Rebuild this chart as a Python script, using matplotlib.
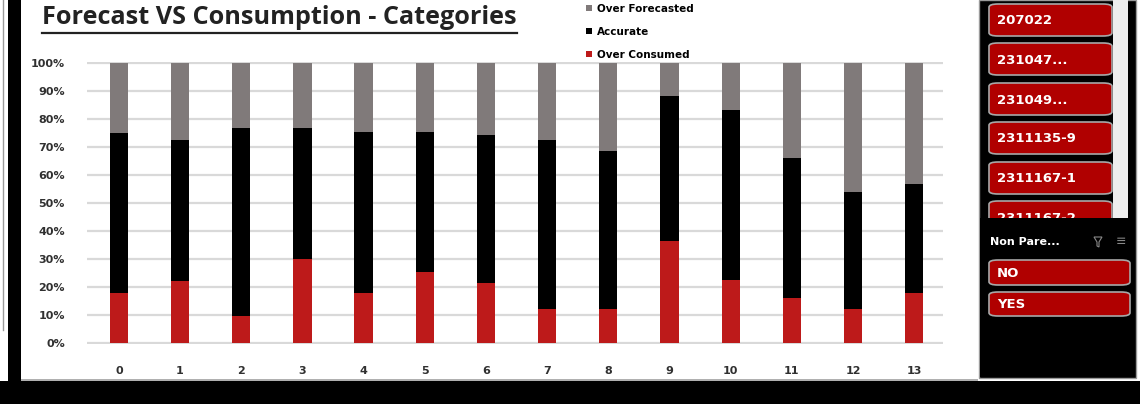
import matplotlib
matplotlib.use("Agg")
import matplotlib.pyplot as plt
from matplotlib.patches import Rectangle, FancyBboxPatch, Polygon
from matplotlib.lines import Line2D
from matplotlib.ticker import FuncFormatter, MultipleLocator

# ---- data (percent of each category) ----
categories = [str(i) for i in range(14)]
over_consumed = [17.8, 22.3, 9.7, 29.9, 17.8, 25.3, 21.6, 12.3, 12.3, 36.4, 22.4, 16.1, 12.3, 17.8]
accurate = [57.4, 50.3, 67.3, 47.1, 57.5, 50.1, 52.7, 60.3, 56.5, 51.8, 61.0, 50.0, 41.6, 38.9]
over_forecasted = [24.8, 27.4, 23.0, 23.0, 24.7, 24.6, 25.7, 27.4, 31.2, 11.8, 16.6, 33.9, 46.1, 43.3]
series_names = ["Over Consumed", "Accurate", "Over Forecasted"]
title = "Forecast VS Consumption - Categories"
slicer1_items = ["207022", "231047...", "231049...", "2311135-9", "2311167-1", "2311167-2"]
slicer2_header = "Non Pare..."
slicer2_items = ["NO", "YES"]

W, H = 1140, 404
fig = plt.figure(figsize=(W / 100, H / 100), dpi=100)
fig.patch.set_facecolor("white")

def fx(px):
    return px / W

def fy(py):
    return 1 - py / H

def rect(x0, y0, x1, y1, z=1, **kw):
    r = Rectangle((fx(x0), fy(y1)), fx(x1 - x0), (y1 - y0) / H, transform=fig.transFigure, zorder=z, **kw)
    fig.add_artist(r)
    return r

# frame decorations
fig.add_artist(Line2D([fx(2.5), fx(2.5)], [fy(0), fy(330)], color="#9a9a9a", lw=1, transform=fig.transFigure))
rect(8, 0, 21, 404, facecolor="black", edgecolor="none")
rect(0, 381, 1140, 404, facecolor="black", edgecolor="none")
rect(21, 379, 978, 381, facecolor="#b0b0b0", edgecolor="none")

# ---- chart ----
ymin, ymax = -0.4, 100.4
y0px, y100px = 345.3, 63.3
pxper = (y0px - y100px) / 100.0
ax_bottom_px = y0px - (0 - ymin) * pxper
ax_top_px = y100px - (ymax - 100) * pxper
ax = fig.add_axes([fx(87), fy(ax_bottom_px), fx(943 - 87), (ax_bottom_px - ax_top_px) / H])
ax.set_facecolor("none")

x = list(range(len(categories)))
bw = 0.3
c_red, c_black, c_gray = "#bd1a1a", "#000000", "#807a7a"
b1 = ax.bar(x, over_consumed, width=bw, color=c_red, label=series_names[0], zorder=3)
b2 = ax.bar(x, accurate, width=bw, bottom=over_consumed, color=c_black, label=series_names[1], zorder=3)
bot3 = [a + b for a, b in zip(over_consumed, accurate)]
b3 = ax.bar(x, over_forecasted, width=bw, bottom=bot3, color=c_gray, label=series_names[2], zorder=3)

ax.set_xlim(-0.52, 13.47)
ax.set_ylim(ymin, ymax)
ax.set_xticks(x)
ax.set_xticklabels(categories)
ax.yaxis.set_major_locator(MultipleLocator(10))
ax.yaxis.set_major_formatter(FuncFormatter(lambda v, p: f"{int(round(v))}%"))
for s in ax.spines.values():
    s.set_visible(False)
ax.grid(axis="y", color="#d9d9d9", lw=1.6, zorder=0)
ax.set_axisbelow(True)
ax.tick_params(axis="both", length=0, labelsize=8, labelcolor="#303030")
ax.tick_params(axis="y", pad=16)
ax.tick_params(axis="x", pad=16)
for lab in ax.get_xticklabels() + ax.get_yticklabels():
    lab.set_fontweight("bold")

# legend
leg = fig.legend(handles=[b3, b2, b1], labels=[series_names[2], series_names[1], series_names[0]],
                 loc="upper left", bbox_to_anchor=(fx(582), fy(-0.5)), frameon=False,
                 prop={"size": 7.5, "weight": "bold"}, handlelength=0.6, handleheight=0.6,
                 handletextpad=0.45, labelspacing=1.25, borderaxespad=0)

# title with underline (size fitted to the reference width)
t = fig.text(fx(42), fy(18), title, fontsize=16, fontweight="bold", color="#222222",
             va="center", ha="left", family="Open Sans")
renderer = fig.canvas.get_renderer()
bb = t.get_window_extent(renderer=renderer)
t.set_fontsize(16 * 475.0 / bb.width)
bb = t.get_window_extent(renderer=renderer)
fig.add_artist(Line2D([bb.x0 / W, bb.x1 / W], [fy(32.5), fy(32.5)], color="#222222", lw=1.6,
                      transform=fig.transFigure))

# ---- right slicer panel ----
rect(979, 0, 1136, 378, facecolor="black", edgecolor="#9a9a9a", lw=1)
rect(1113, 0, 1128, 218, facecolor="#eeeeee", edgecolor="none")

def button(x0, y0, x1, y1, label, z=2):
    p = FancyBboxPatch((fx(x0), fy(y1)), fx(x1 - x0), (y1 - y0) / H,
                       boxstyle="round,pad=0,rounding_size=0.008",
                       transform=fig.transFigure, facecolor="#b00000", edgecolor="#a8a8a8", lw=1.2, zorder=z)
    fig.add_artist(p)
    fig.text(fx(x0 + 8), fy((y0 + y1) / 2 + 1), label, color="white", fontsize=9.5,
             fontweight="bold", va="center", ha="left", zorder=z + 0.1)

tops = [4, 43, 83, 122, 162, 201]
for top, lab in zip(tops, slicer1_items):
    button(989, top, 1112, top + 32, lab)
# panel area below the scrolled list hides the clipped last item
rect(980, 218, 1135, 377, z=5, facecolor="black", edgecolor="none")

fig.text(fx(990), fy(242), slicer2_header, color="white", fontsize=8, fontweight="bold", va="center", zorder=6)
# filter and clear icons
fx0, fy0 = 1094, 237
fig.add_artist(Polygon([[fx(fx0), fy(fy0)], [fx(fx0 + 8), fy(fy0)], [fx(fx0 + 5), fy(fy0 + 5)],
                        [fx(fx0 + 5), fy(fy0 + 10)], [fx(fx0 + 3), fy(fy0 + 9)], [fx(fx0 + 3), fy(fy0 + 5)]],
                       closed=True, transform=fig.transFigure, facecolor="none", edgecolor="#888888",
                       lw=0.8, zorder=6))
fig.text(fx(1116), fy(242), "\u2261", color="#888888", fontsize=9, va="center", zorder=6)
button(989, 260, 1130, 285, slicer2_items[0], z=7)
button(989, 292, 1130, 316, slicer2_items[1], z=7)

fig.savefig("out.png", dpi=100, facecolor="white")
